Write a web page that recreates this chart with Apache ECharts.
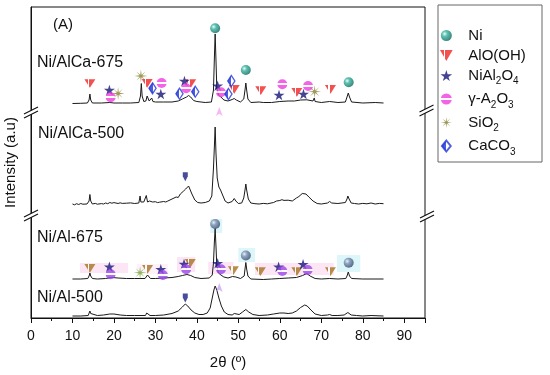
<!DOCTYPE html>
<html><head><meta charset="utf-8">
<script src="https://cdn.jsdelivr.net/npm/echarts@6/dist/echarts.min.js"></script>
<style>html,body{margin:0;padding:0;background:#fff}#c{width:550px;height:375px}</style>
</head><body><div id="c"></div>
<script>
// ---------- data (2θ in degrees, offset intensity in a.u.) ----------
const xTickLabels = [0, 10, 20, 30, 40, 50, 60, 70, 80, 90];
const sampleNames = ['Ni/AlCa-675', 'Ni/AlCa-500', 'Ni/Al-675', 'Ni/Al-500'];
const phaseNames = ['Ni', 'AlO(OH)', 'NiAl2O4', 'γ-A2O3', 'SiO2', 'CaCO3'];

const curveAlCa675 = [[10,214.5],[12,214.7],[13.6,215],[14.0,218],[14.2,224],[14.4,218],[14.8,215],[17,215],[19,215.5],[20,215],[22,215],[24,215],[26.0,215.5],[26.4,222],[26.6,234.5],[26.8,222],[27.2,216.5],[27.7,217],[28.0,222],[28.2,223],[28.5,217],[28.8,218],[29.1,220],[29.4,216.5],[30,216],[32,216],[34,216],[35.5,217],[36.5,219],[37.5,221],[38.0,222.5],[38.5,221],[39.2,217.5],[40,216.5],[41,216],[42,215.5],[43.5,216],[44.0,228],[44.2,258],[44.4,284],[44.6,258],[44.8,230],[45.2,223],[45.8,221],[46.5,218],[47.5,217],[48.5,218.5],[49.0,219.5],[49.5,218],[50.5,216],[51.3,219],[51.6,228],[51.8,235],[52.0,228],[52.3,219],[53,215.5],[55,216],[56,215.5],[58,215.5],[60,216.5],[62,217],[63.5,217],[65,218],[66.5,218.2],[68,217],[68.3,220],[68.5,216.5],[70,215.5],[72,216.5],[74,215.5],[75.8,216],[76.2,221],[76.5,225],[76.8,221],[77.3,216],[80,215],[83,215.5],[85,215]];

const curveAlCa500 = [[10,114],[10.5,113.2],[11,114.3],[11.5,113.5],[12,114.5],[12.5,113.8],[13.5,114],[14.0,117],[14.2,123.5],[14.4,117],[14.8,114],[15.5,114.6],[16,113.8],[17,114.4],[17.5,114],[18,115],[18.5,114.3],[19,115.5],[19.5,114.8],[20,115.4],[21,114.5],[21.5,115.2],[22,114.6],[23,114.8],[24,115.1],[25,114.5],[26.0,115],[26.3,122],[26.5,116],[27.2,116],[27.8,122.5],[28.1,116],[28.6,117],[29.0,119],[29.3,116],[30,116.3],[30.5,115.4],[31,115.8],[32,116.5],[32.5,116],[33,117],[34,119],[35,121],[35.5,120.5],[36,124],[36.8,127],[37.3,129],[37.7,128],[38.0,132],[38.3,129],[38.8,124],[39.5,118],[40.2,115.5],[41,115],[42,115.5],[43,117],[43.6,122],[44.0,150],[44.2,170],[44.4,191],[44.6,165],[44.9,140],[45.3,131],[45.7,128],[46.2,123],[46.8,117],[47.5,115],[48.5,116.5],[49.0,119.5],[49.4,117],[50,114.5],[50.8,115],[51.3,120],[51.6,128],[51.8,134],[52.0,128],[52.4,119],[53,115],[54,114.3],[55,114],[56,114.6],[57,114.2],[58.5,115.5],[59.2,117],[60,117.5],[60.5,118.3],[61,117.6],[62,117.8],[63,117],[64,120],[64.6,121.5],[65,123],[65.4,124.5],[65.7,126],[66.3,124],[67,121],[68,117],[69,114.5],[70,114],[71.5,115],[72,116.5],[72.5,115],[74,114.5],[75.8,115.5],[76.2,119],[76.4,122],[76.7,119],[77.2,115],[78,114.5],[79,114],[80,114.6],[81,114.2],[82,115],[83,114],[84,114.6],[85,114.3]];

const curveAl675 = [[10,39],[12,39],[13.7,39.5],[14.0,42],[14.2,45],[14.4,42],[14.8,39.5],[16,39],[18,39.5],[19.5,40.5],[21,40],[23,39.5],[25,39.5],[27.5,39.5],[27.9,41.5],[28.1,43],[28.3,41.5],[28.8,39.5],[30,39.5],[32,40],[34,40.5],[35.5,41.5],[36.5,42.5],[37.6,43.5],[38.5,42.5],[39.5,40.5],[41,39.5],[43,40],[43.7,43],[44.0,55],[44.2,75],[44.4,89.5],[44.6,72],[44.8,52],[45.2,45],[45.8,43],[46.5,41],[47.5,40],[48.6,41.5],[49.0,42],[49.4,41],[50.5,39.5],[51.4,42],[51.6,49],[51.8,55.5],[52.0,49],[52.3,42],[53,39],[56,38.5],[58,39],[60,39.5],[62,40],[64,40.5],[65.5,42.5],[66.5,44.5],[67.3,42],[68.5,39.5],[70,39],[72,39.5],[74,39],[75.9,39.5],[76.2,42],[76.5,46],[76.8,42],[77.3,39.5],[80,39],[85,39]];

const curveAl500 = [[10,2],[12,2],[13.8,2.5],[14.0,4.5],[14.2,7],[14.4,4.5],[14.8,2.5],[16,2.5],[17.5,3],[19,4],[20,4],[21.5,3],[23,2.5],[25,2.5],[27.6,2.5],[27.9,5],[28.1,7],[28.3,5],[28.7,2.5],[30,2.5],[32,3],[34,4.5],[35.5,7],[36.5,11],[37.2,14],[37.8,12],[38.6,8],[39.5,5],[40.5,3.5],[41.5,3.5],[42.5,5],[43.2,10],[43.7,20],[44.1,28],[44.4,32],[44.8,28],[45.3,20],[45.9,12],[46.6,6],[47.5,3.5],[48.5,3],[49.0,4.5],[49.4,3.5],[50.2,3.5],[51.0,6],[51.8,8.5],[52.5,6],[53.5,3.5],[55,2.5],[57,3],[58.5,4],[60,5],[61,5],[62,4.5],[63,5],[64,7],[65,10.5],[66,13],[66.6,12],[67.5,8],[68.5,4],[70,2.5],[71.5,3],[72,3.5],[72.6,2.5],[74,2.5],[75.5,3],[76.4,5.5],[77.2,3],[78.5,2.5],[80,2],[82,2.5],[85,2]];

// phase markers, Ni/AlCa-675 pattern
const mNi_Ca = [[44.4,289.7],[51.8,248],[76.6,235.7]];
const mAlOOH_Ca = [[14.2,234.5],[28.0,234.7],[38.5,234.3],[49.0,228.7],[55.4,227.3],[64.1,225.7],[72.2,228.7]];
const mNiAl2O4_Ca = [[18.9,228],[31.3,224],[37.0,237],[45.0,232.3],[59.8,223],[65.7,224]];
const mGamma_Ca = [[19.2,220.7],[31.5,235],[37.4,229.7],[45.8,225.8],[60.6,233.7],[66.8,232]];
const mSiO2_Ca = [[21.0,224.5],[26.5,242],[68.4,226.3]];
const mCaCO3_Ca = [[29.3,229.7],[35.8,224.3],[39.6,226.3],[47.6,224],[48.3,237]];
// phase markers, Ni/Al-675 pattern
const mNi_Al = [[44.4,94],[51.8,62.5],[76.6,55.3]];
const mAlOOH_Al = [[14.2,49.7],[28.1,48.7],[38.4,54.7],[48.8,47.3],[55.3,46.3],[64.1,46.3],[72.2,46.3]];
const mNiAl2O4_Al = [[18.9,51.3],[31.3,48.7],[36.9,54],[45.0,54.7],[59.7,51.3],[65.6,53.7]];
const mGamma_Al = [[19.2,43.7],[31.8,43],[37.4,48.7],[45.8,48.7],[60.6,47],[66.7,48]];
const mSiO2_Al = [[26.3,45.3]];
// small pointers
const mWedge = [[37.2,141.3],[37.2,20]];
const mArrowCa = [[45.4,211]];
const mArrowAl = [[45.4,35]];

// ---------- styles ----------
const FONT = 'Liberation Sans, Arial, sans-serif';
const STAR = 'path://M50,0 L61,35 L98,35 L68,57 L79,91 L50,70 L21,91 L32,57 L2,35 L39,35 Z';
const TRI = 'path://M0,0 L100,0 L50,87 Z';
const BURST = 'path://M100,50 L60,55 L85.4,85.4 L55,60 L50,100 L45,60 L14.6,85.4 L40,55 L0,50 L40,45 L14.6,14.6 L45,40 L50,0 L55,40 L85.4,14.6 L60,45 Z';
const WEDGE = 'path://M0,0 L100,0 L100,45 L50,100 L0,45 Z';
const DIAM = 'path://M40,0 L80,50 L40,100 L0,50 Z';

function radial(c0, c1, c2) {
  return {type:'radial', x:0.35, y:0.35, r:0.7, colorStops:[{offset:0,color:c0},{offset:0.35,color:c1},{offset:1,color:c2}]};
}
function hStripe(c) {
  return {type:'linear', x:0, y:0, x2:1, y2:0, colorStops:[{offset:0,color:c},{offset:0.3,color:c},{offset:0.3,color:'#fff'},{offset:0.42,color:'#fff'},{offset:0.42,color:c},{offset:1,color:c}]};
}
function vStripe(c) {
  return {type:'linear', x:0, y:0, x2:0, y2:1, colorStops:[{offset:0,color:c},{offset:0.4,color:c},{offset:0.4,color:'#fff'},{offset:0.58,color:'#fff'},{offset:0.58,color:c},{offset:1,color:c}]};
}
const halfDiamond = {type:'linear', x:0, y:0, x2:1, y2:0, colorStops:[{offset:0,color:'#1f35d8'},{offset:0.5,color:'#1f35d8'},{offset:0.5,color:'#fff'},{offset:1,color:'#fff'}]};

function lineSeries(name, data) {
  return {name, type:'line', data, showSymbol:false, symbol:'none', z:3,
    lineStyle:{color:'#1a1a1a', width:1}, emphasis:{disabled:true}};
}
function scatter(name, data, symbol, size, itemStyle) {
  return {name, type:'scatter', data, symbol, symbolSize:size, symbolKeepAspect:true, z:5,
    itemStyle, emphasis:{disabled:true}};
}

const sub = {fontSize:10, fontFamily:FONT, color:'#111', padding:[12,0,0,0]};
const legendLabel = {'Ni':'Ni','AlO(OH)':'AlO(OH)','NiAl2O4':'NiAl{s|2}O{s|4}','γ-A2O3':'γ-A{s|2}O{s|3}','SiO2':'SiO{s|2}','CaCO3':'CaCO{s|3}'};

function brk(cx, cy) {
  const p = [[cx-7,cy+2],[cx+7,cy-5],[cx+7,cy-1],[cx-7,cy+6]];
  return [
    {type:'polygon', shape:{points:p}, style:{fill:'#fff'}, z:100},
    {type:'line', shape:{x1:p[0][0],y1:p[0][1],x2:p[1][0],y2:p[1][1]}, style:{stroke:'#111', lineWidth:1.2}, z:101},
    {type:'line', shape:{x1:p[3][0],y1:p[3][1],x2:p[2][0],y2:p[2][1]}, style:{stroke:'#111', lineWidth:1.2}, z:101}
  ];
}
function label(text, x, y, size) {
  return {type:'text', left:x, top:y, z:50, style:{text, fontSize:size||16, fontFamily:FONT, fill:'#111'}};
}

const pinkBand = 'rgba(250,210,238,0.55)';
const cyanBand = 'rgba(205,242,247,0.7)';

const chart = echarts.init(document.getElementById('c'), null, {renderer:'canvas'});
chart.setOption({
  animation:false,
  backgroundColor:'#fff',
  grid:{left:31, top:7, right:125, bottom:57, show:true, borderColor:'#111', borderWidth:1,
    containLabel:false, outerBoundsMode:'none'},
  xAxis:{type:'value', min:0, max:95, interval:10,
    name:'2θ (º)', nameLocation:'middle', nameGap:37,
    nameTextStyle:{fontSize:15, fontFamily:FONT, color:'#111'},
    axisLine:{lineStyle:{color:'#111', width:1}},
    axisTick:{inside:false, length:5, lineStyle:{color:'#111'}},
    minorTick:{show:true, splitNumber:2, length:3, lineStyle:{color:'#111'}},
    splitLine:{show:false},
    axisLabel:{fontSize:14, fontFamily:FONT, color:'#111', margin:11, showMaxLabel:false,
      formatter:v => xTickLabels.includes(v) ? String(v) : ''}},
  yAxis:{type:'value', min:0, max:311,
    name:'Intensity (a.u)', nameLocation:'middle', nameGap:13, nameRotate:90,
    nameTextStyle:{fontSize:15, fontFamily:FONT, color:'#111'},
    axisLine:{show:true, lineStyle:{color:'#111', width:1}},
    axisTick:{show:false}, axisLabel:{show:false}, splitLine:{show:false}},
  legend:{orient:'vertical', left:440, top:28, padding:0, itemGap:5,
    itemWidth:34, itemHeight:11, selectedMode:false,
    data:phaseNames,
    formatter:n => legendLabel[n],
    textStyle:{fontSize:15, fontFamily:FONT, color:'#111', rich:{s:sub}}},
  graphic:[
    {type:'rect', shape:{x:438, y:5, width:104, height:157}, style:{fill:'none', stroke:'#666', lineWidth:1}, z:1},
    ...brk(31,112), ...brk(31,215), ...brk(426.5,110), ...brk(427,216),
    label('(A)', 53, 17, 15),
    label(sampleNames[0], 37, 55),
    label(sampleNames[1], 38, 126),
    label(sampleNames[2], 37, 230),
    label(sampleNames[3], 37, 290)
  ],
  series:[
    {name:'bands', type:'line', data:[], z:1, silent:true,
      markArea:{silent:true, z:1, data:[
        [{coord:[11.8,45], itemStyle:{color:pinkBand}}, {coord:[23.4,55]}],
        [{coord:[25.5,44], itemStyle:{color:'rgba(250,215,240,0.35)'}}, {coord:[33,54]}],
        [{coord:[35.2,46], itemStyle:{color:pinkBand}}, {coord:[39.6,61]}],
        [{coord:[42.7,44], itemStyle:{color:pinkBand}}, {coord:[48.8,56]}],
        [{coord:[54,43], itemStyle:{color:pinkBand}}, {coord:[73,55]}],
        [{coord:[43.2,85], itemStyle:{color:cyanBand}}, {coord:[46.1,99]}],
        [{coord:[50.0,56], itemStyle:{color:cyanBand}}, {coord:[54,70]}],
        [{coord:[73.8,46], itemStyle:{color:cyanBand}}, {coord:[79.4,63]}]
      ]}},
    lineSeries(sampleNames[0], curveAlCa675),
    lineSeries(sampleNames[1], curveAlCa500),
    lineSeries(sampleNames[2], curveAl675),
    lineSeries(sampleNames[3], curveAl500),
    scatter('Ni', mNi_Ca, 'circle', 10, {color:radial('#e0fff8','#34b09e','#0a6558')}),
    scatter('AlO(OH)', mAlOOH_Ca, TRI, [11,10], {color:hStripe('#f02424')}),
    scatter('NiAl2O4', mNiAl2O4_Ca, STAR, 11, {color:'#15157a'}),
    scatter('γ-A2O3', mGamma_Ca, 'circle', 10, {color:vStripe('#f03ce0')}),
    scatter('SiO2', mSiO2_Ca, BURST, 13, {color:'#858030'}),
    scatter('CaCO3', mCaCO3_Ca, DIAM, [9,11], {color:halfDiamond, borderColor:'#1f35d8', borderWidth:1.3}),
    scatter('Ni-b', mNi_Al, 'circle', 10, {color:radial('#eef2fa','#7d91b3','#34466a')}),
    scatter('AlO(OH)-b', mAlOOH_Al, TRI, [11,10], {color:hStripe('#a8721e')}),
    scatter('NiAl2O4-b', mNiAl2O4_Al, STAR, 11, {color:'#15157a'}),
    scatter('γ-A2O3-b', mGamma_Al, 'circle', 10, {color:vStripe('#9b45e6')}),
    scatter('SiO2-b', mSiO2_Al, BURST, 13, {color:'#74a834'}),
    scatter('wedge', mWedge, WEDGE, [5,9], {color:'#1a2080'}),
    scatter('arrowCa', mArrowCa, 'arrow', [5,9], {color:'#f4a6ee'}),
    scatter('arrowAl', mArrowAl, 'arrow', [5,9], {color:'#c9a6f2'})
  ]
});
</script></body></html>
